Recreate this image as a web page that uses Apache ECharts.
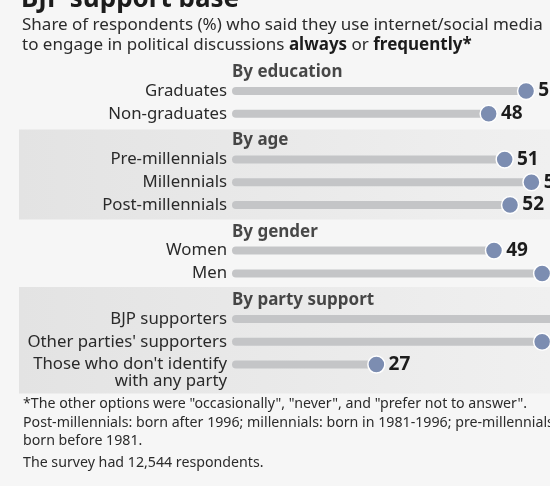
<!DOCTYPE html>
<html>
<head>
<meta charset="utf-8">
<script src="https://cdn.jsdelivr.net/npm/echarts@6/dist/echarts.min.js"></script>
<style>
  html, body { margin: 0; padding: 0; background: #f6f6f6; }
  #chart { width: 550px; height: 486px; }
</style>
</head>
<body>
<div id="chart"></div>
<script>
  // rows, top to bottom; group headers have no value
  const rows = [
    'By education', 'Graduates', 'Non-graduates',
    'By age', 'Pre-millennials', 'Millennials', 'Post-millennials',
    'By gender', 'Women', 'Men',
    'By party support', 'BJP supporters', "Other parties' supporters",
    "Those who don't identify\nwith any party"
  ];
  const headers = ['By education', 'By age', 'By gender', 'By party support'];
  const shares = [null, 55, 48, null, 51, 56, 52, null, 49, 58, null, 64, 58, 27];

  const FONT = 'Noto Sans';
  const isHeader = (name) => headers.indexOf(name) >= 0;

  const chart = echarts.init(document.getElementById('chart'));

  const band = (y, h) => ({
    type: 'rect',
    left: 19, top: y, z: -10,
    shape: { width: 531, height: h },
    style: {
      fill: new echarts.graphic.LinearGradient(0, 0, 1, 0, [
        { offset: 0, color: '#e3e3e3' },
        { offset: 1, color: '#f0f0f0' }
      ])
    }
  });

  chart.setOption({
    backgroundColor: '#f6f6f6',
    animation: false,
    textStyle: { fontFamily: FONT },
    graphic: [
      band(129.5, 90),
      band(287, 106.5),
      {
        type: 'text', left: 21, top: -13,
        style: { text: 'BJP support base', font: 'bold 26px "Noto Sans"', fill: '#1c1c1c' }
      },
      {
        type: 'text', left: 22, top: 15.5,
        style: {
          text: 'Share of respondents (%) who said they use internet/social media\nto engage in political discussions {b|always} or {b|frequently*}',
          font: '17px "Noto Sans"', fill: '#2b2b2b', lineHeight: 20,
          rich: { b: { fontWeight: 'bold', fontSize: 17, fontFamily: FONT, fill: '#1c1c1c', lineHeight: 20 } }
        }
      },
      {
        type: 'text', left: 23, top: 395,
        style: {
          text: '*The other options were "occasionally", "never", and "prefer not to answer".\nPost-millennials: born after 1996; millennials: born in 1981-1996; pre-millennials:\nborn before 1981.',
          font: '14.2px "Noto Sans"', fill: '#2b2b2b', lineHeight: 18.5
        }
      },
      {
        type: 'text', left: 23, top: 454,
        style: { text: 'The survey had 12,544 respondents.', font: '14.2px "Noto Sans"', fill: '#2b2b2b', lineHeight: 18.5 }
      }
    ],
    grid: { left: 232, top: 56.8, width: 534.7, height: 319.2, containLabel: false, outerBoundsMode: 'none' },
    xAxis: { type: 'value', min: 0, max: 100, show: false },
    yAxis: {
      type: 'category',
      data: rows,
      inverse: true,
      axisLine: { show: false },
      axisTick: { show: false },
      axisLabel: {
        margin: 5,
        interval: 0,
        hideOverlap: false,
        fontFamily: FONT,
        fontSize: 16.8,
        color: '#2a2a2a',
        lineHeight: 17,
        formatter: (name) => isHeader(name) ? '' : (name.indexOf('\n') >= 0 ? '\n' + name : name)
      }
    },
    series: [
      {
        name: 'track',
        type: 'bar',
        data: shares,
        barWidth: 8,
        silent: true,
        clip: false,
        itemStyle: { color: '#c4c5c7', borderRadius: 4 }
      },
      {
        name: 'share',
        type: 'scatter',
        data: shares,
        symbolSize: 17,
        clip: false,
        z: 3,
        itemStyle: { color: '#7c8db1', borderColor: '#ffffff', borderWidth: 1.5, opacity: 1 },
        label: {
          show: true,
          position: 'right',
          distance: 3,
          fontFamily: FONT,
          fontSize: 19,
          fontWeight: 'bold',
          color: '#1c1c1c',
          formatter: (p) => p.value
        }
      },
      {
        name: 'headers',
        type: 'scatter',
        data: rows.map((name) => isHeader(name) ? 0 : null),
        symbolSize: 0,
        silent: true,
        label: {
          show: true,
          position: 'right',
          distance: 0,
          offset: [0, 4],
          fontFamily: FONT,
          fontSize: 17,
          fontWeight: 'bold',
          color: '#1c1c1c',
          formatter: (p) => rows[p.dataIndex]
        }
      }
    ]
  });
</script>
</body>
</html>
